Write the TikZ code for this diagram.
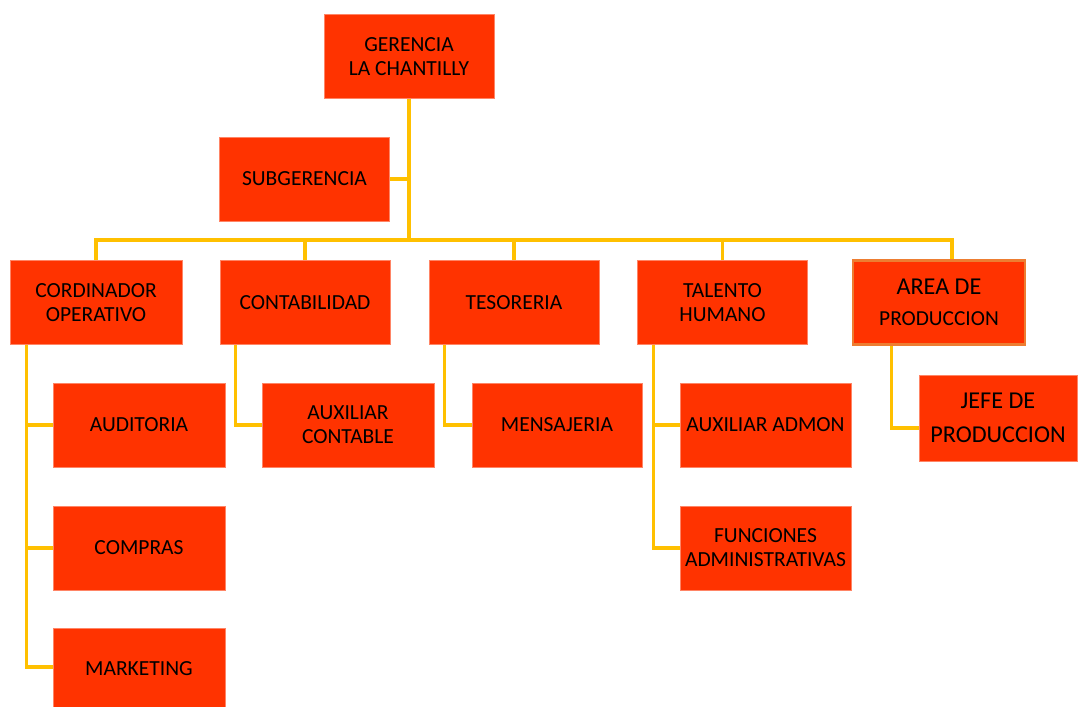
\documentclass[tikz,border=0pt]{standalone}
\usepackage{fontspec}
\setmainfont{Carlito}
\usepackage{xcolor}
\usetikzlibrary{positioning, calc}

\definecolor{cajaroja}{HTML}{FF3300}
\definecolor{lineaoro}{HTML}{FFC000}
\definecolor{bordenaranja}{HTML}{ED7D31}

\begin{document}
\begin{tikzpicture}[x=0.025cm, y=-0.025cm,
    caja/.style={fill=cajaroja, draw=cajaroja!60!white, line width=0.3pt,
        minimum width=4.25cm, minimum height=2.1cm, align=center,
        font=\fontsize{15.3}{17}\selectfont, inner sep=2pt},
    linea/.style={draw=lineaoro, line width=2.4pt}]
    \useasboundingbox (0,0) rectangle (1078,706);

    % primer nivel
    \node[caja] (ger) at (409,56.5) {GERENCIA\\LA CHANTILLY};
    \node[caja] (sub) at (304.5,179) {SUBGERENCIA};
    \coordinate (bus) at (409,240);

    % segundo nivel
    \node[caja, minimum width=4.3cm] (cord) at (96,302.5) {CORDINADOR\\OPERATIVO};
    \node[caja] (cont) at (305,302.5) {CONTABILIDAD};
    \node[caja] (tes) at (514,302.5) {TESORERIA};
    \node[caja] (tal) at (722.5,302.5) {TALENTO\\HUMANO};
    \node[caja, draw=bordenaranja, line width=2pt, minimum width=4.3cm, minimum height=2.1cm,
        font=\fontsize{17.2}{22}\selectfont] (area) at (939,302.5)
        {AREA DE\\{\fontsize{15.2}{17}\selectfont PRODUCCION}};

    % tercer nivel
    \node[caja, minimum width=4.3cm] (aud) at (139,425) {AUDITORIA};
    \node[caja, minimum width=4.3cm] (auxc) at (348,425) {AUXILIAR\\CONTABLE};
    \node[caja] (mens) at (557,425) {MENSAJERIA};
    \node[caja, minimum width=4.275cm] (auxa) at (765.5,425) {AUXILIAR ADMON};
    \node[caja, minimum width=3.95cm, minimum height=2.15cm,
        font=\fontsize{17.2}{24}\selectfont] (jefe) at (998,418) {JEFE DE\\PRODUCCION};
    \node[caja, minimum width=4.3cm] (comp) at (139,548) {COMPRAS};
    \node[caja, minimum width=4.275cm] (func) at (765.5,548) {FUNCIONES\\ADMINISTRATIVAS};
    \node[caja, minimum width=4.3cm, minimum height=2.05cm] (mark) at (139,669) {MARKETING};

    % conectores de gerencia
    \draw[linea] (ger.south) -- (bus);
    \draw[linea] (sub.east) -- (sub.east -| bus);
    \draw[linea] (cord.north) |- (bus) -| ([xshift=0.325cm]area.north);
    \draw[linea] (cont.north) -- (cont.north |- bus);
    \draw[linea] (tes.north) -- (tes.north |- bus);
    \draw[linea] (tal.north) -- (tal.north |- bus);

    % conectores hacia el tercer nivel
    \draw[linea] ([xshift=0.425cm]cord.south west) |- ([yshift=0.05cm]mark.west);
    \draw[linea] ([xshift=0.425cm]cord.south west |- aud.west) -- (aud.west);
    \draw[linea] ([xshift=0.425cm]cord.south west |- comp.west) -- (comp.west);
    \draw[linea] ([xshift=0.4cm]cont.south west) |- (auxc.west);
    \draw[linea] ([xshift=0.4cm]tes.south west) |- (mens.west);
    \draw[linea] ([xshift=0.4cm]tal.south west) |- (func.west);
    \draw[linea] ([xshift=0.4cm]tal.south west |- auxa.west) -- (auxa.west);
    \draw[linea] ([xshift=1cm]area.south west) |- ([yshift=-0.25cm]jefe.west);
\end{tikzpicture}
\end{document}
